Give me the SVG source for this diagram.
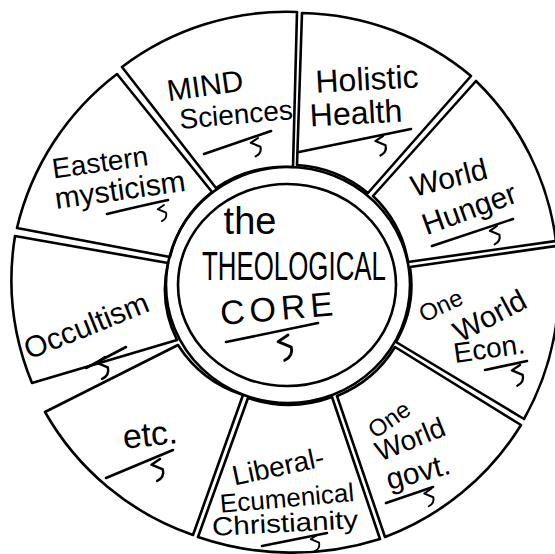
<svg xmlns="http://www.w3.org/2000/svg" xmlns:xlink="http://www.w3.org/1999/xlink" width="555" height="554" viewBox="0 0 555 554">
<style>
  .ln{fill:none;stroke:#000;stroke-width:2.6;stroke-linejoin:round;stroke-linecap:round}
  .seg{fill:#fff;stroke:#000;stroke-width:2.6;stroke-linejoin:round}
  .t{font-family:"Liberation Sans","DejaVu Sans",sans-serif;fill:#000;text-anchor:middle}
</style>
<defs>
  <path id="sq" d="M0,0 l-9,6 l12,5 q2,8 -6,12" class="ln"/>
</defs>
<rect width="555" height="554" fill="#fff"/>
<g id="connectors"/>
<g id="mind">
  <path class="seg" d="M216,188 L122,67 A272,272 0 0 1 297,12 L293,167 A122,118 0 0 0 216,188 Z"/>
  <text class="t" x="205" y="96" font-size="30" transform="rotate(-8 205 86)">MIND</text>
  <text class="t" x="236" y="124" font-size="28" transform="rotate(-5 236 114)">Sciences</text>
  <path class="ln" d="M204,154 L271,131"/>
  <use xlink:href="#sq" transform="translate(258,138) scale(0.8)"/>
</g>
<g id="holistic">
  <path class="seg" d="M297,165 L302,13 A272,272 0 0 1 471,76 L368,193 A122,118 0 0 0 297,165 Z"/>
  <text class="t" x="367" y="90" font-size="32" transform="rotate(-3 367 80)">Holistic</text>
  <text class="t" x="356" y="124" font-size="32" transform="rotate(-3 356 114)">Health</text>
  <path class="ln" d="M299,152 L411,129"/>
  <use xlink:href="#sq" transform="translate(383,136) scale(0.85)"/>
</g>
<g id="hunger">
  <path class="seg" d="M373,196 L476,81 A272,272 0 0 1 556,241 L408,262 A122,118 0 0 0 373,196 Z"/>
  <text class="t" x="449" y="188" font-size="30" transform="rotate(-14 449 178)">World</text>
  <text class="t" x="469" y="219" font-size="30" transform="rotate(-20 469 208)">Hunger</text>
  <path class="ln" d="M432,246 L513,219"/>
  <use xlink:href="#sq" transform="translate(497,226) scale(0.8)"/>
</g>
<g id="econ">
  <path class="seg" d="M410,267 L556,246 A272,272 0 0 1 524,419 L396,342 A122,118 0 0 0 410,267 Z"/>
  <text class="t" x="440" y="314" font-size="24" transform="rotate(-25 440 304)">One</text>
  <text class="t" x="490" y="326" font-size="30" transform="rotate(-28 490 316)">World</text>
  <text class="t" x="489" y="358" font-size="28" transform="rotate(-8 489 348)">Econ.</text>
  <path class="ln" d="M485,370 L527,361"/>
  <use xlink:href="#sq" transform="translate(520,365) scale(0.9)"/>
</g>
<g id="govt">
  <path class="seg" d="M395,347 L521,425 A272,272 0 0 1 385,537 L337,396 A122,118 0 0 0 395,347 Z"/>
  <text class="t" x="388" y="428" font-size="24" transform="rotate(-35 388 418)">One</text>
  <text class="t" x="410" y="449" font-size="28" transform="rotate(-22 410 439)">World</text>
  <text class="t" x="418" y="482" font-size="30" transform="rotate(-15 418 472)">govt.</text>
  <path class="ln" d="M386,503 L433,487"/>
  <use xlink:href="#sq" transform="translate(431,489) scale(0.75)"/>
</g>
<g id="liberal">
  <path class="seg" d="M332,397 L380,539 A290,290 0 0 1 198,537 L248,398 A122,118 0 0 0 332,397 Z"/>
  <text class="t" x="278" y="476" font-size="28" transform="rotate(-12 278 466)">Liberal-</text>
  <text class="t" x="287" y="507" font-size="26" transform="rotate(-5 287 498)">Ecumenical</text>
  <text class="t" x="285" y="532" font-size="26" textLength="146" lengthAdjust="spacingAndGlyphs" transform="rotate(-3 285 523)">Christianity</text>
  <path class="ln" d="M262,546 L327,533"/>
  <use xlink:href="#sq" transform="translate(317,535) scale(0.7)"/>
</g>
<g id="etc">
  <path class="seg" d="M243,395 L193,535 A272,272 0 0 1 45,412 L178,345 A122,118 0 0 0 243,395 Z"/>
  <text class="t" x="150" y="446" font-size="34" transform="rotate(-6 150 435)">etc.</text>
  <path class="ln" d="M106,478 L173,450"/>
  <use xlink:href="#sq" transform="translate(160,459) scale(0.95)"/>
</g>
<g id="occultism">
  <path class="seg" d="M177,340 L32,383 A272,272 0 0 1 15,236 L168,263 A122,118 0 0 0 177,340 Z"/>
  <text class="t" x="86" y="336" font-size="30" transform="rotate(-22 86 325)">Occultism</text>
  <path class="ln" d="M86,368 L126,347"/>
  <use xlink:href="#sq" transform="translate(105,357) scale(0.95)"/>
</g>
<g id="eastern">
  <path class="seg" d="M170,257 L17,228 A272,272 0 0 1 117,74 L212,192 A122,118 0 0 0 170,257 Z"/>
  <text class="t" x="100" y="172" font-size="28" transform="rotate(-8 100 162)">Eastern</text>
  <text class="t" x="120" y="200" font-size="30" transform="rotate(-8 120 190)">mysticism</text>
  <path class="ln" d="M107,214 Q140,206 168,200"/>
  <use xlink:href="#sq" transform="translate(164,205) scale(0.7)"/>
</g>
<g id="core">
  <ellipse class="ln" cx="288" cy="285" rx="122" ry="118"/>
  <ellipse class="ln" cx="287" cy="285" rx="109" ry="101"/>
  <text class="t" x="250" y="234" font-size="38">the</text>
  <text class="t" x="294" y="280" font-size="40" textLength="184" lengthAdjust="spacingAndGlyphs">THEOLOGICAL</text>
  <text class="t" x="279" y="320" font-size="34" letter-spacing="5" transform="rotate(-5 279 308)">CORE</text>
  <path class="ln" d="M226,342 L318,323"/>
  <use xlink:href="#sq" transform="translate(288,335) scale(1.1)"/>
</g>
</svg>
